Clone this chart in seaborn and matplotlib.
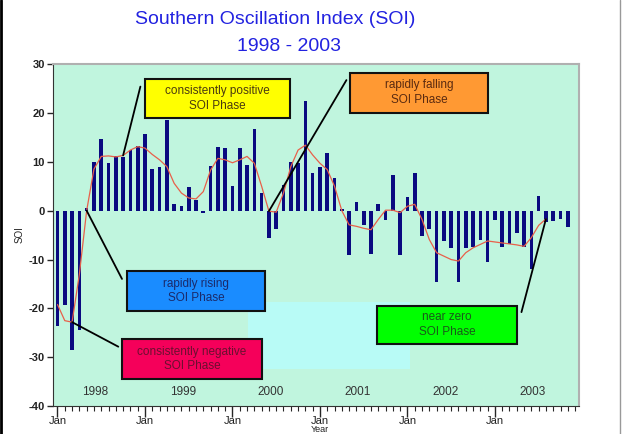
import numpy as np
import pandas as pd
import seaborn as sns
from matplotlib import pyplot as plt
from matplotlib import patches

# monthly SOI, Jan 1998 - Nov 2003
years = ['1998', '1999', '2000', '2001', '2002', '2003']
soi = [-23.5, -19.2, -28.5, -24.4, 0.5, 9.9, 14.6, 9.8, 11.1, 10.9, 12.5, 13.3,
       15.6, 8.6, 8.9, 18.5, 1.3, 1.0, 4.8, 2.1, -0.4, 9.1, 13.1, 12.8,
       5.1, 12.9, 9.4, 16.8, 3.6, -5.5, -3.7, 5.3, 9.9, 9.7, 22.4, 7.7,
       8.9, 11.9, 6.7, 0.3, -9.0, 1.8, -3.0, -8.9, 1.4, -1.9, 7.2, -9.1,
       2.7, 7.7, -5.2, -3.8, -14.5, -6.3, -7.6, -14.6, -7.6, -7.4, -6.0, -10.6,
       -2.0, -7.4, -6.8, -4.6, -7.4, -12.0, 2.9, -2.3, -2.2, -1.8, -3.4]
# smoothed curve (red line), Jan 1998 - Aug 2003
smooth = [-19.2, -22.5, -22.8, -13.0, 0.0, 8.5, 11.1, 11.2, 11.0, 11.3, 12.4, 13.1,
          12.8, 11.5, 10.4, 9.0, 5.6, 3.6, 2.6, 2.4, 3.9, 8.3, 10.7, 10.4,
          9.8, 10.4, 11.1, 9.7, 5.0, -0.1, -0.3, 3.6, 9.0, 12.4, 13.4, 11.4,
          9.7, 8.4, 5.0, 0.0, -2.9, -3.2, -3.6, -3.9, -1.8, 0.1, 0.1, -0.4,
          0.9, 1.3, -1.8, -5.9, -8.6, -9.3, -10.0, -10.3, -8.6, -7.6, -6.9, -6.2,
          -6.4, -6.6, -6.8, -7.0, -7.3, -5.5, -3.0, -1.7]

# phase call-outs: text, box colour, text colour, box (x0, y0, x1, y1) axes frac, line start, month pointed at
phases = [
    ('consistently positive\nSOI Phase', '#ffff00', '#4a3a10', (0.175, 0.843, 0.451, 0.956), (0.166, 0.934), 9),
    ('rapidly falling\nSOI Phase', '#ff9933', '#5a2a10', (0.565, 0.858, 0.827, 0.974), (0.558, 0.953), 29),
    ('rapidly rising\nSOI Phase', '#1a8cff', '#1a2a6a', (0.141, 0.279, 0.403, 0.395), (0.131, 0.372), 4),
    ('consistently negative\nSOI Phase', '#f5005a', '#6a1030', (0.131, 0.081, 0.397, 0.195), (0.124, 0.174), 2),
    ('near zero\nSOI Phase', '#00ff00', '#1a5a1a', (0.616, 0.183, 0.882, 0.294), (0.891, 0.275), 67),
]

df = pd.DataFrame({'month': np.arange(len(soi)), 'soi': soi})
sm = pd.DataFrame({'month': np.arange(len(smooth)), 'soi': smooth})

sns.set_style('ticks')
plt.rcParams['font.family'] = ['Liberation Sans', 'DejaVu Sans']

fig = plt.figure(figsize=(6.25, 4.34), dpi=100)
ax = fig.add_axes([0.085, 0.064, 0.841, 0.7885])
ax.set_facecolor('#c0f5de')

# lighter patch in the background
ax.add_patch(patches.Rectangle((0.371, 0.110), 0.308, 0.195, transform=ax.transAxes,
                               facecolor='#b8fbf6', edgecolor='none', zorder=0))

sns.barplot(data=df, x='month', y='soi', color='#0a0a80', saturation=1, width=0.5,
            linewidth=0, ax=ax, zorder=2)
sns.lineplot(data=sm, x='month', y='soi', color='#e8604a', lw=0.9, ax=ax, zorder=3)

ax.set_xlim(-0.6, 71.5)
ax.set_ylim(-40, 30)
ax.set_yticks(np.arange(-40, 31, 10))
ax.set_yticklabels([str(v) for v in range(-40, 31, 10)], fontsize=8, fontweight='bold', color='#222222')
ax.set_xticks(np.arange(0, 72, 12))
ax.set_xticklabels(['Jan'] * 6, fontsize=8, color='#222222')
ax.set_xticks(np.arange(0, 72, 1), minor=True)
ax.tick_params(axis='x', which='major', length=8, width=1, pad=-1)
ax.tick_params(axis='x', which='minor', length=3.5, width=0.8)
ax.tick_params(axis='y', length=4, width=1, pad=2)
ax.set_xlabel('')
ax.set_ylabel('SOI', fontsize=7, labelpad=3)
for s in ['top', 'right']:
    ax.spines[s].set_color('#b0b0b0')
    ax.spines[s].set_linewidth(1.5)
for s in ['left', 'bottom']:
    ax.spines[s].set_color('#333333')

for i, yr in enumerate(years):
    ax.text(i * 12 + 5.2, -37, yr, ha='center', va='center', fontsize=8.5, color='#333333')

for label, fc, tc, (x0, y0, x1, y1), start, m in phases:
    ax.add_patch(patches.Rectangle((x0, y0), x1 - x0, y1 - y0, transform=ax.transAxes,
                                   facecolor=fc, edgecolor='#111111', lw=1.5, zorder=5))
    ax.text((x0 + x1) / 2, (y0 + y1) / 2, label, transform=ax.transAxes, ha='center',
            va='center', fontsize=8.5, color=tc, zorder=6, linespacing=1.3)
    ax.annotate('', xy=(m, smooth[m]), xycoords='data', xytext=start, textcoords='axes fraction',
                arrowprops=dict(arrowstyle='-', color='black', lw=1.3, shrinkA=0, shrinkB=0), zorder=4)

fig.text(0.44, 0.954, 'Southern Oscillation Index (SOI)', ha='center', va='center',
         fontsize=14, color='#2222e0')
fig.text(0.462, 0.893, '1998 - 2003', ha='center', va='center', fontsize=14, color='#2222e0')
fig.text(0.512, 0.0, 'Year', ha='center', va='bottom', fontsize=6.5, color='#222222')

# page frame lines
fig.add_artist(plt.Line2D([0.002, 0.002], [0, 1], color='black', lw=2, transform=fig.transFigure))
fig.add_artist(plt.Line2D([0.992, 0.992], [0, 1], color='#999999', lw=1, transform=fig.transFigure))

fig.savefig('out.png', dpi=100)
